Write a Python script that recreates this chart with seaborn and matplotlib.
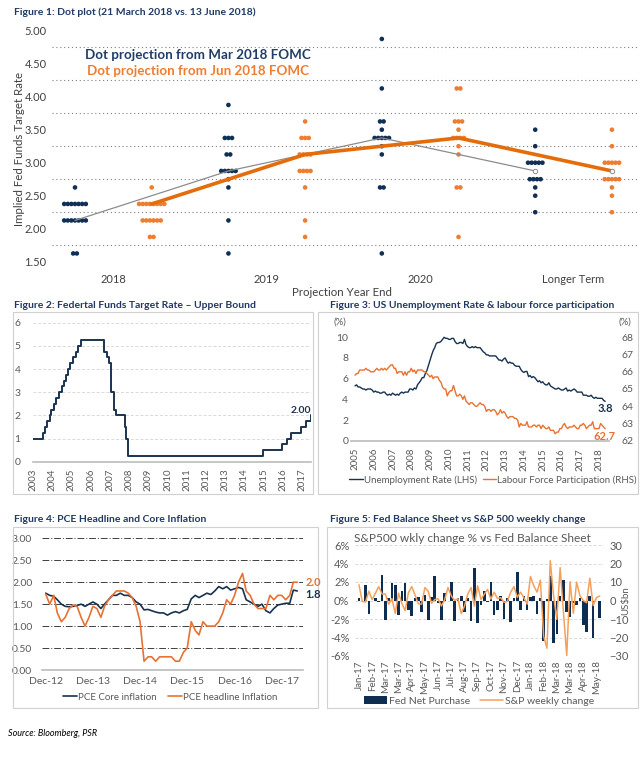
import numpy as np
import pandas as pd
import matplotlib
matplotlib.use("Agg")
import matplotlib.pyplot as plt
import matplotlib.dates as mdates
from matplotlib.lines import Line2D
from matplotlib.patches import Patch, Rectangle
import seaborn as sns

# ---------------- data ----------------
# figure 1: FOMC dots, (rate, number of dots) per column
dots_2018_mar = [(2.625, 1), (2.375, 7), (2.125, 7), (1.625, 2)]
dots_2018_jun = [(2.625, 1), (2.375, 8), (2.125, 6), (1.875, 2)]
dots_2019_mar = [(3.875, 1), (3.375, 3), (3.125, 2), (2.875, 5), (2.75, 1), (2.625, 1), (2.125, 1), (1.625, 1)]
dots_2019_jun = [(3.625, 1), (3.375, 3), (3.125, 4), (2.875, 4), (2.625, 1), (2.125, 1), (1.875, 1)]
dots_2020_mar = [(4.875, 1), (4.125, 1), (3.625, 2), (3.5, 1), (3.375, 5), (3.25, 1), (3.125, 1), (2.625, 2), (1.625, 1)]
dots_2020_jun = [(4.125, 2), (3.625, 3), (3.5, 1), (3.375, 4), (3.25, 1), (3.125, 1), (2.625, 2), (1.875, 1)]
dots_lt_mar = [(3.5, 1), (3.25, 1), (3.0, 5), (2.75, 4), (2.625, 1), (2.5, 1), (2.25, 1)]
dots_lt_jun = [(3.5, 1), (3.25, 1), (3.0, 5), (2.75, 5), (2.625, 1), (2.5, 1), (2.25, 1)]
year_groups = ["2018", "2019", "2020", "Longer Term"]
mar_median = [2.125, 2.875, 3.375, 2.875]
jun_median = [2.375, 3.125, 3.375, 2.875]

# figure 2: fed funds upper bound (change dates)
ffr_dates = ["2004-01-01", "2004-06-30", "2004-08-10", "2004-09-21", "2004-11-10", "2004-12-14",
             "2005-02-02", "2005-03-22", "2005-05-03", "2005-06-30", "2005-08-09", "2005-09-20",
             "2005-11-01", "2005-12-13", "2006-01-31", "2006-03-28", "2006-05-10", "2006-06-29",
             "2007-09-18", "2007-10-31", "2007-12-11", "2008-01-22", "2008-01-30", "2008-03-18",
             "2008-04-30", "2008-10-08", "2008-10-29", "2008-12-16", "2015-12-16", "2016-12-14",
             "2017-03-15", "2017-06-14", "2017-12-13", "2018-03-21", "2018-06-13", "2018-06-20"]
ffr_upper = [1.00, 1.25, 1.50, 1.75, 2.00, 2.25, 2.50, 2.75, 3.00, 3.25, 3.50, 3.75,
             4.00, 4.25, 4.50, 4.75, 5.00, 5.25, 4.75, 4.50, 4.25, 3.50, 3.00, 2.25,
             2.00, 1.50, 1.00, 0.25, 0.50, 0.75, 1.00, 1.25, 1.50, 1.75, 2.00, 2.00]
ffr_years = list(range(2003, 2018))

# figure 3: monthly, Jan-2005 .. May-2018
unemp = [5.3, 5.4, 5.2, 5.2, 5.1, 5.0, 5.0, 4.9, 5.0, 5.0, 5.0, 4.9,
         4.7, 4.8, 4.7, 4.7, 4.6, 4.6, 4.7, 4.7, 4.5, 4.4, 4.5, 4.4,
         4.6, 4.5, 4.4, 4.5, 4.4, 4.6, 4.7, 4.6, 4.7, 4.7, 4.7, 5.0,
         5.0, 4.9, 5.1, 5.0, 5.4, 5.6, 5.8, 6.1, 6.1, 6.5, 6.8, 7.3,
         7.8, 8.3, 8.7, 9.0, 9.4, 9.5, 9.5, 9.6, 9.8, 10.0, 9.9, 9.9,
         9.8, 9.8, 9.9, 9.9, 9.6, 9.4, 9.4, 9.5, 9.5, 9.4, 9.8, 9.3,
         9.1, 9.0, 9.0, 9.1, 9.0, 9.1, 9.0, 9.0, 9.0, 8.8, 8.6, 8.5,
         8.3, 8.3, 8.2, 8.2, 8.2, 8.2, 8.2, 8.0, 7.8, 7.8, 7.7, 7.9,
         8.0, 7.7, 7.5, 7.6, 7.5, 7.5, 7.3, 7.2, 7.2, 7.2, 6.9, 6.7,
         6.6, 6.7, 6.7, 6.2, 6.3, 6.1, 6.2, 6.1, 5.9, 5.7, 5.8, 5.6,
         5.7, 5.5, 5.4, 5.4, 5.6, 5.3, 5.2, 5.1, 5.0, 5.0, 5.1, 5.0,
         4.9, 4.9, 5.0, 5.1, 4.8, 4.9, 4.8, 4.9, 5.0, 4.9, 4.7, 4.7,
         4.7, 4.7, 4.4, 4.4, 4.4, 4.3, 4.3, 4.4, 4.2, 4.1, 4.2, 4.1,
         4.1, 4.1, 4.1, 3.9, 3.8]
lfpr = [65.8, 65.9, 65.9, 66.1, 66.1, 66.1, 66.1, 66.2, 66.1, 66.1, 66.0, 66.0,
        66.0, 66.1, 66.2, 66.1, 66.1, 66.2, 66.1, 66.2, 66.1, 66.2, 66.3, 66.4,
        66.4, 66.2, 66.2, 65.9, 66.0, 66.0, 66.0, 65.8, 66.0, 65.8, 66.0, 66.0,
        66.2, 66.0, 66.1, 65.9, 66.1, 66.1, 66.1, 66.1, 66.0, 66.0, 65.9, 65.8,
        65.7, 65.8, 65.6, 65.7, 65.7, 65.7, 65.5, 65.4, 65.1, 65.0, 65.0, 64.6,
        64.8, 64.9, 64.9, 65.2, 64.9, 64.6, 64.6, 64.7, 64.6, 64.4, 64.6, 64.3,
        64.2, 64.1, 64.2, 64.2, 64.1, 64.0, 64.0, 64.1, 64.2, 64.1, 64.1, 64.0,
        63.7, 63.8, 63.8, 63.7, 63.8, 63.8, 63.7, 63.5, 63.6, 63.8, 63.6, 63.7,
        63.6, 63.4, 63.3, 63.4, 63.4, 63.4, 63.3, 63.3, 63.2, 62.8, 63.0, 62.9,
        62.9, 62.9, 63.1, 62.8, 62.8, 62.8, 62.9, 62.9, 62.8, 62.9, 62.9, 62.7,
        62.9, 62.8, 62.7, 62.7, 62.8, 62.6, 62.6, 62.6, 62.4, 62.5, 62.5, 62.7,
        62.7, 62.9, 63.0, 62.8, 62.7, 62.8, 62.8, 62.8, 62.9, 62.8, 62.7, 62.7,
        62.9, 62.9, 63.0, 62.9, 62.7, 62.8, 62.9, 62.9, 63.1, 62.7, 62.7, 62.7,
        62.7, 63.0, 62.9, 62.8, 62.7]
labour_years = list(range(2005, 2019))

# figure 4: monthly, Dec-2012 .. Apr-2018
pce_core = [1.75, 1.70, 1.68, 1.60, 1.50, 1.45, 1.44, 1.45, 1.47, 1.50, 1.45, 1.50,
            1.55, 1.50, 1.40, 1.50, 1.60, 1.70, 1.70, 1.75, 1.70, 1.70, 1.65, 1.55,
            1.50, 1.37, 1.38, 1.35, 1.32, 1.30, 1.30, 1.25, 1.30, 1.33, 1.30, 1.35,
            1.38, 1.62, 1.70, 1.65, 1.70, 1.75, 1.72, 1.80, 1.90, 1.85, 1.90, 1.82,
            1.85, 1.88, 1.85, 1.60, 1.55, 1.50, 1.45, 1.50, 1.35, 1.30, 1.40, 1.48,
            1.50, 1.52, 1.52, 1.82, 1.80]
pce_headline = [1.73, 1.50, 1.70, 1.30, 1.10, 1.20, 1.40, 1.48, 1.45, 1.20, 1.00, 1.20,
                1.45, 1.40, 1.20, 1.45, 1.60, 1.70, 1.80, 1.80, 1.80, 1.75, 1.65, 1.45,
                1.10, 0.20, 0.30, 0.30, 0.20, 0.30, 0.30, 0.30, 0.30, 0.20, 0.20, 0.40,
                0.50, 1.10, 0.90, 0.80, 1.10, 1.00, 1.00, 1.00, 1.10, 1.30, 1.60, 1.50,
                1.70, 2.00, 2.20, 1.80, 1.70, 1.50, 1.40, 1.40, 1.40, 1.70, 1.60, 1.70,
                1.70, 1.60, 1.70, 2.00, 2.00]
pce_labels = ["Dec-12", "Dec-13", "Dec-14", "Dec-15", "Dec-16", "Dec-17"]

# figure 5: weekly from 6-Jan-2017
fed_net = [1.5, 0, 8.5, -7.5, 0, 1.5, -1, 14, -10.5, 1.5,
           9.5, 8.5, -8, 5, 9.5, -5, -8.5, 1.5, 2, -6,
           3, -10.5, 2, 13.5, -1.5, -10.5, 4, -0.5, 10, -11,
           1.5, 2.5, -6, 1.5, -11, 17.5, -12, -2.5, 5, -1,
           10, -8, -5, 2.5, -10, 1.5, -11.5, 1.5, 15.5, -5,
           2.5, -5, 2, 2.5, -7.5, 1.5, -22, 1, 13.5, -23,
           -18, 2.5, 11, -6, -9, -1.5, -2.5, 1.5, -13, -17,
           2.5, -20.5, 0, -9.5]
sp_change = [1.7, -0.1, -0.15, 1.0, 0.1, 0.8, 1.5, 0.7, 0.7, -0.4,
             0.2, -1.4, 0.8, -0.3, -1.1, 0.85, 1.5, 0.6, -0.35, -0.4,
             1.4, 1.0, -0.3, 0.1, 0.2, -0.6, 0.1, 1.4, 0.5, 0.0,
             0.2, -1.4, -0.6, 0.7, 1.4, -0.6, 1.6, 0.1, 0.7, 1.2,
             0.15, 0.9, 0.2, 0.3, -0.2, -0.1, 0.9, 1.5, 0.35, 0.9,
             0.3, -0.4, 2.6, 1.6, 0.9, 2.2, -3.85, -5.16, 4.3, 0.55,
             -2.04, 3.54, -1.24, -5.95, 2.03, -1.38, 1.99, 0.52, 0.0, -0.24,
             2.41, -0.54, 0.31, 0.49]
week_start = "2017-01-06"

# ---------------- style ----------------
sns.set_theme(style="white")
plt.rcParams["font.family"] = ["Lato", "DejaVu Sans"]
NAVY_T = "#1F3864"
DOT_NAVY = "#0F2F57"
DOT_ORANGE = "#ED7D31"
TICK = "#595959"
BOX = "#D0D0D0"
BAR = "#0E2D50"

W, H = 643, 772
fig = plt.figure(figsize=(W / 100, H / 100), dpi=100)


def rect(l, t, r, b):
    return [l / W, 1 - b / H, (r - l) / W, (b - t) / H]


def ftext(x, y, s, **kw):
    fig.text(x / W, 1 - y / H, s, **kw)


def lim(v0, p0, v1, p1, pa, pb):
    k = (v1 - v0) / (p1 - p0)
    return v0 + (pa - p0) * k, v0 + (pb - p0) * k


def box(l, t, r, b):
    fig.add_artist(Rectangle((l / W, 1 - b / H), (r - l) / W, (b - t) / H, transform=fig.transFigure,
                             fill=False, edgecolor=BOX, lw=0.8))


def clean(ax):
    for s in ax.spines.values():
        s.set_visible(False)
    ax.tick_params(colors=TICK, labelsize=7.5, length=0, pad=2)


# ---------------- figure 1 ----------------
ftext(14, 12, "Figure 1: Dot plot (21 March 2018 vs. 13 June 2018)", fontsize=7.5,
      fontweight="bold", color=NAVY_T, va="center")
ax1 = fig.add_axes(rect(52, 30.7, 638, 261.7))
columns = [dots_2018_mar, dots_2018_jun, dots_2019_mar, dots_2019_jun,
           dots_2020_mar, dots_2020_jun, dots_lt_mar, dots_lt_jun]
col_pos = np.arange(len(columns)) * 0.5
rows = []
for i, col in enumerate(columns):
    for rate, n in col:
        for k in range(n):
            rows.append({"x": col_pos[i] + (k - (n - 1) / 2) * 0.0235, "rate": rate,
                         "meeting": "Mar" if i % 2 == 0 else "Jun"})
dots = pd.DataFrame(rows)
sns.scatterplot(data=dots, x="x", y="rate", hue="meeting", palette={"Mar": DOT_NAVY, "Jun": DOT_ORANGE},
                s=11, linewidth=0, legend=False, ax=ax1, zorder=2)
sns.lineplot(x=col_pos[0::2], y=mar_median, color="#8C8C8C", lw=0.9, ax=ax1, zorder=3)
sns.lineplot(x=col_pos[1::2], y=jun_median, color="#E46C0A", lw=2.6, ax=ax1, zorder=4)
ax1.scatter([col_pos[-2], col_pos[-1]], [mar_median[-1], jun_median[-1]], s=10, facecolor="white",
            edgecolor="#8C8C8C", lw=0.7, zorder=5)
ax1.set_xlim(-0.15, 3.67)
ax1.set_ylim(1.5, 5.0)
ax1.set_yticks(np.arange(1.5, 5.01, 0.5))
ax1.set_yticklabels([f"{v:.2f}" for v in np.arange(1.5, 5.01, 0.5)])
ax1.set_yticks(np.arange(1.75, 4.8, 0.5), minor=True)
ax1.set_xticks(np.arange(4) + 0.25)
ax1.set_xticklabels(year_groups)
ax1.grid(False)
ax1.grid(which="minor", axis="y", ls=(0, (1, 2.5)), color="#7F7F7F", lw=0.8)
clean(ax1)
ax1.tick_params(axis="y", which="both", length=0, labelsize=8, pad=4, colors="#404040")
ax1.tick_params(axis="x", labelsize=8, pad=9, colors="#404040")
ax1.set_xlabel("")
ax1.set_ylabel("")
ftext(20, 149, "Implied Fed Funds Target Rate", rotation=90, fontsize=8.3, color="#404040",
      ha="center", va="center")
ftext(342, 293, "Projection Year End", fontsize=8.3, color="#404040", ha="center", va="center")
ftext(198, 55, "Dot projection from Mar 2018 FOMC", fontsize=9.6, fontweight="bold",
      color="#1F3D66", ha="center", va="center")
ftext(198, 71, "Dot projection from Jun 2018 FOMC", fontsize=9.6, fontweight="bold",
      color=DOT_ORANGE, ha="center", va="center")

# ---------------- figure 2 ----------------
ftext(14, 305, "Figure 2: Federtal Funds Target Rate \u2013 Upper Bound", fontsize=7.5,
      fontweight="bold", color=NAVY_T, va="center")
box(13, 312, 313, 494)
ax2 = fig.add_axes(rect(33, 322.7, 311, 461.7))
fdates = pd.to_datetime(ffr_dates)
sns.lineplot(x=fdates, y=ffr_upper, drawstyle="steps-post", color="#1B3350", lw=1.4,
             estimator=None, ax=ax2)
ax2.set_xlim(mdates.date2num(pd.Timestamp("2004-01-01")), mdates.date2num(pd.Timestamp("2018-06-20")))
ax2.set_ylim(0, 6)
ax2.set_yticks(range(0, 7))
ax2.set_xticks([mdates.date2num(pd.Timestamp(f"{y + 1}-01-01")) for y in ffr_years])
ax2.set_xticklabels([str(y) for y in ffr_years], rotation=90)
ax2.grid(axis="y", ls=(0, (3, 2)), color="#D9D9D9", lw=0.7)
ax2.grid(axis="x", visible=False)
clean(ax2)
ax2.spines["bottom"].set_visible(True)
ax2.spines["bottom"].set_color("#BFBFBF")
ax2.tick_params(axis="x", length=3, color="#BFBFBF", labelsize=7, pad=2)
ax2.tick_params(axis="y", labelsize=7.5, pad=9)
ax2.set_xlabel("")
ax2.set_ylabel("")
ax2.text(fdates[-1], ffr_upper[-1], "2.00", fontsize=7.5, fontweight="bold", color="#1B3350",
         ha="right", va="bottom")

# ---------------- figure 3 ----------------
ftext(330, 305, "Figure 3: US Unemployment Rate & labour force participation", fontsize=7.5,
      fontweight="bold", color=NAVY_T, va="center")
box(318, 312, 638, 494)
months3 = pd.date_range("2005-01-01", periods=len(unemp), freq="MS")
d0 = mdates.date2num(pd.Timestamp("2005-01-01"))
d1 = mdates.date2num(pd.Timestamp("2018-01-01"))
ax3 = fig.add_axes(rect(351, 330, 609, 441))
ax3r = ax3.twinx()
sns.lineplot(x=months3, y=unemp, color="#17324F", lw=1.0, ax=ax3)
sns.lineplot(x=months3, y=lfpr, color="#E97132", lw=1.0, ax=ax3r)
ax3.set_xlim(*lim(d0, 355, d1, 599, 351, 609))
ax3.set_ylim(*lim(0, 440.7, 10, 337.3, 441, 330))
ax3r.set_ylim(*lim(62, 440.7, 68, 337.3, 441, 330))
ax3.set_yticks(range(0, 11, 2))
ax3r.set_yticks(range(62, 69))
ax3.set_xticks([mdates.date2num(pd.Timestamp(f"{y}-01-01")) for y in labour_years])
ax3.set_xticklabels([str(y) for y in labour_years], rotation=90)
for a in (ax3, ax3r):
    a.grid(False)
    clean(a)
    a.set_xlabel("")
    a.set_ylabel("")
ax3.spines["bottom"].set_visible(True)
ax3.spines["bottom"].set_color("#BFBFBF")
ax3.tick_params(axis="x", length=3, color="#BFBFBF", labelsize=7, pad=2)
ax3.tick_params(axis="y", labelsize=7.5, pad=2)
ax3r.tick_params(axis="y", labelsize=7.5, pad=9)
ftext(340, 322, "(%)", fontsize=7, color=TICK, ha="center", va="center")
ftext(625, 322, "(%)", fontsize=7, color=TICK, ha="center", va="center")
ftext(605, 408, f"{unemp[-1]:.1f}", fontsize=8, fontweight="bold", color="#17324F", ha="center", va="center")
ftext(605, 437, f"{lfpr[-1]:.1f}", fontsize=8, fontweight="bold", color="#E97132", ha="center", va="center")
leg3 = [Line2D([], [], color="#17324F", lw=1.0), Line2D([], [], color="#E97132", lw=1.0)]
fig.legend(leg3, ["Unemployment Rate (LHS)", "Labour Force Participation (RHS)"], ncol=2,
           loc="center", bbox_to_anchor=(493 / W, 1 - 480 / H), frameon=False, fontsize=7,
           handlelength=1.4, handletextpad=0.1, columnspacing=0.6, labelcolor=TICK)

# ---------------- figure 4 ----------------
ftext(14, 520, "Figure 4: PCE Headline and Core Inflation", fontsize=7.5,
      fontweight="bold", color=NAVY_T, va="center")
box(13, 527, 318, 708)
months4 = pd.date_range("2012-12-01", periods=len(pce_core), freq="MS")
e0 = mdates.date2num(pd.Timestamp("2012-12-01"))
e1 = mdates.date2num(pd.Timestamp("2017-12-01"))
ax4 = fig.add_axes(rect(42, 538.3, 303, 670))
sns.lineplot(x=months4, y=pce_core, color="#17324F", lw=1.2, ax=ax4, zorder=3)
sns.lineplot(x=months4, y=pce_headline, color="#E97132", lw=1.2, ax=ax4, zorder=4)
ax4.set_xlim(*lim(e0, 45.7, e1, 281.7, 42, 303))
ax4.set_ylim(0, 3)
ax4.set_yticks(np.arange(0, 3.01, 0.5))
ax4.set_yticklabels([f"{v:.2f}" for v in np.arange(0, 3.01, 0.5)])
ax4.set_xticks([mdates.date2num(pd.Timestamp(f"{2012 + i}-12-01")) for i in range(len(pce_labels))])
ax4.set_xticklabels(pce_labels)
ax4.grid(False)
ax4.grid(axis="y", ls=(0, (7, 2, 1, 2)), color="#404040", lw=0.7)
clean(ax4)
ax4.spines["bottom"].set_visible(True)
ax4.spines["bottom"].set_color("#BFBFBF")
ax4.tick_params(axis="x", labelsize=7.5, pad=5)
ax4.tick_params(axis="y", labelsize=7.5, pad=7)
ax4.set_xlabel("")
ax4.set_ylabel("")
ftext(313, 582, f"{pce_headline[-1]:.1f}", fontsize=8, fontweight="bold", color="#E97132", ha="center", va="center")
ftext(313, 595, f"{pce_core[-1]:.1f}", fontsize=8, fontweight="bold", color="#17324F", ha="center", va="center")
leg4 = [Line2D([], [], color="#17324F", lw=1.2), Line2D([], [], color="#E97132", lw=1.2)]
fig.legend(leg4, ["PCE Core inflation", "PCE headline Inflation"], ncol=2,
           loc="center", bbox_to_anchor=(170 / W, 1 - 697 / H), frameon=False, fontsize=7,
           handlelength=1.4, handletextpad=0.1, columnspacing=1.2, labelcolor=TICK)

# ---------------- figure 5 ----------------
ftext(330, 520, "Figure 5: Fed Balance Sheet vs S&P 500 weekly change", fontsize=7.5,
      fontweight="bold", color=NAVY_T, va="center")
box(327, 527, 638, 708)
weeks = np.arange(len(fed_net))
wdates = pd.date_range(week_start, periods=len(fed_net), freq="7D")
ax5 = fig.add_axes(rect(355, 545, 604, 656))
sns.barplot(x=weeks, y=fed_net, native_scale=True, color=BAR, saturation=1, width=0.8,
            linewidth=0, errorbar=None, ax=ax5, zorder=2)
ax5b = ax5.twinx()
sns.lineplot(x=weeks, y=sp_change, color="#F5A05A", lw=1.1, ax=ax5b, zorder=3)
ax5.set_ylim(-30, 30)
ax5.set_yticks(range(-30, 31, 10))
ax5b.set_ylim(-6, 6)
ax5b.set_yticks(range(-6, 7, 2))
ax5b.set_yticklabels([f"{v}%" for v in range(-6, 7, 2)])
ax5.set_xlim(-1.2, len(weeks) + 0.3)
ax5.set_xticks(weeks[::4])
ax5.set_xticklabels([d.strftime("%b-%y") for d in wdates[::4]], rotation=90)
ax5.grid(False)
ax5b.grid(False)
ax5.grid(axis="y", ls=(0, (3, 2)), color="#D9D9D9", lw=0.7)
for a in (ax5, ax5b):
    clean(a)
    a.set_xlabel("")
    a.set_ylabel("")
ax5.yaxis.tick_right()
ax5b.yaxis.tick_left()
ax5.tick_params(axis="x", labelsize=7, pad=3)
ax5.tick_params(axis="y", labelsize=8, pad=4)
ax5b.tick_params(axis="y", labelsize=8, pad=4)
ftext(472, 538, "S&P500 wkly change % vs Fed Balance Sheet", fontsize=8.6, color=TICK,
      ha="center", va="center")
ftext(626, 601, "US$bn", fontsize=7, color=TICK, rotation=90, ha="center", va="center")
leg5 = [Patch(facecolor=BAR, edgecolor="none"), Line2D([], [], color="#F5A05A", lw=1.1)]
fig.legend(leg5, ["Fed Net Purchase", "S&P weekly change"], ncol=2,
           loc="center", bbox_to_anchor=(479 / W, 1 - 701 / H), frameon=False, fontsize=7.5,
           handlelength=2.2, handleheight=0.8, handletextpad=0.2, columnspacing=1.0, labelcolor=TICK)

ftext(8, 734, "Source: Bloomberg, PSR", fontsize=6.5, style="italic", color="black", va="center")

fig.savefig("out.png", dpi=100)
